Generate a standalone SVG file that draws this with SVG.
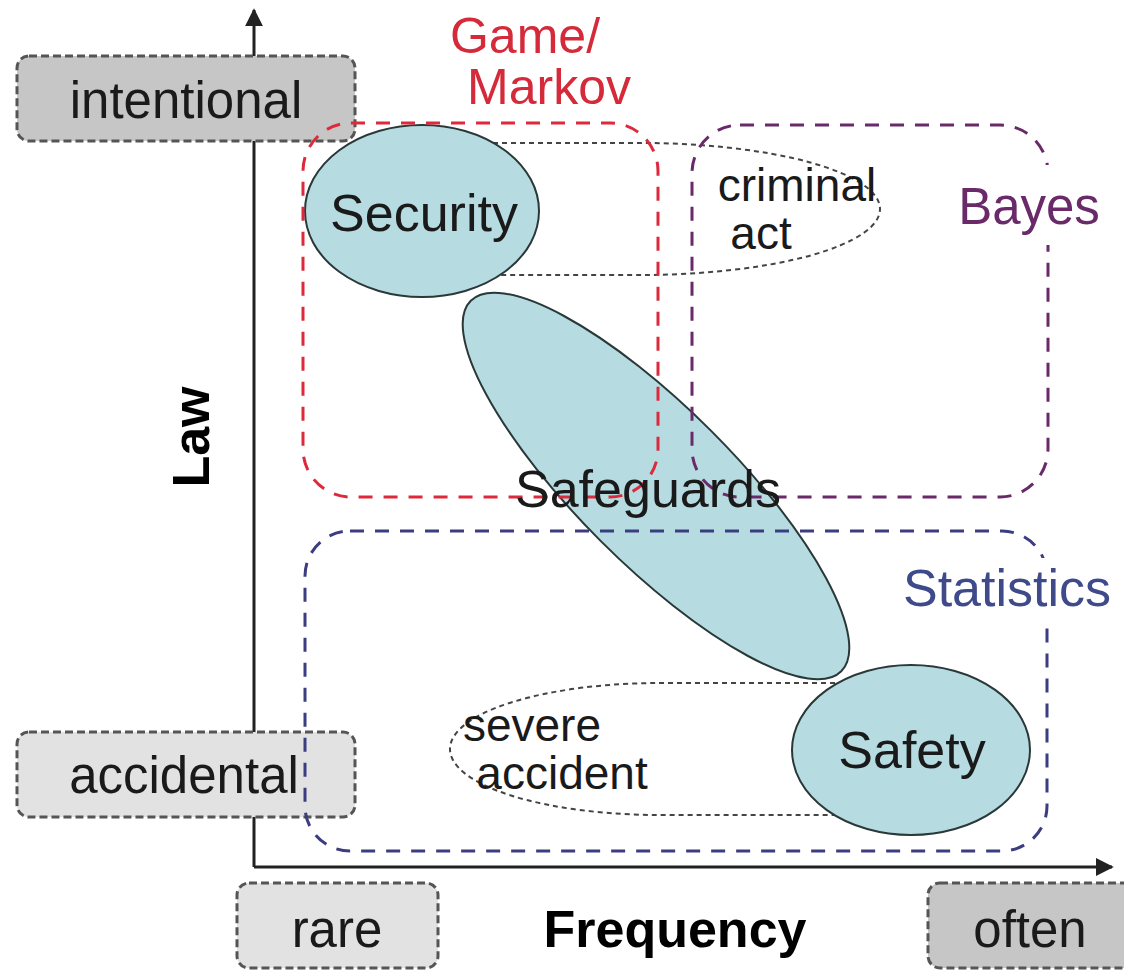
<svg xmlns="http://www.w3.org/2000/svg" width="1124" height="971" viewBox="0 0 1124 971">
<style>
text{font-family:"Liberation Sans",Arial,sans-serif;fill:#1a1a1a}
.lbl{font-size:51px;text-anchor:middle}
.bold{font-weight:bold;font-size:52px;text-anchor:middle;fill:#000}
.small{font-size:46px;text-anchor:middle}
.box{stroke:#555;stroke-width:3;stroke-dasharray:8 4}
.dark{fill:#c6c6c6}
.light{fill:#e2e2e2}
.blob{fill:#b6dce2;stroke:#2a3838;stroke-width:2}
.dot{fill:none;stroke:#444;stroke-width:2;stroke-dasharray:5 4}
.grp{fill:none;stroke-width:3;stroke-dasharray:14 11}
</style>
<defs>
<marker id="arr" viewBox="0 0 10 10" refX="9" refY="5" markerWidth="6" markerHeight="6" markerUnits="strokeWidth" orient="auto">
<path d="M0,0 L10,5 L0,10 z" fill="#222"/>
</marker>
</defs>
<rect width="1124" height="971" fill="#fff"/>
<g id="connectors">
<line x1="254" y1="867" x2="254" y2="10" stroke="#222" stroke-width="3" marker-end="url(#arr)"/>
<line x1="254" y1="867" x2="1112" y2="867" stroke="#222" stroke-width="3" marker-end="url(#arr)"/>
</g>
<g id="criminal-act">
<path class="dot" d="M430 143 H640 A240 66 0 0 1 640 275 H430"/>
</g>
<g id="severe-accident">
<path class="dot" d="M880 683 H660 A210 66 0 0 0 660 815 H880"/>
</g>
<g id="security"><ellipse class="blob" cx="422" cy="211" rx="117" ry="86"/></g>
<g id="safeguards-shape"><ellipse class="blob" cx="656" cy="486" rx="262" ry="78" transform="rotate(45 656 486)"/></g>
<g id="safety"><ellipse class="blob" cx="911" cy="750" rx="119" ry="85"/></g>
<g id="intentional"><rect class="box dark" x="17" y="56" width="338" height="85" rx="12"/><text class="lbl" x="186" y="118">intentional</text></g>
<g id="accidental"><rect class="box light" x="17" y="732" width="338" height="85" rx="12"/><text class="lbl" x="184" y="793">accidental</text></g>
<g id="rare"><rect class="box light" x="237" y="883" width="201" height="85" rx="12"/><text class="lbl" x="337" y="947">rare</text></g>
<g id="often"><rect class="box dark" x="928" y="883" width="210" height="85" rx="12"/><text class="lbl" x="1030" y="947">often</text></g>
<g id="game-markov">
<rect class="grp" x="303" y="123" width="355" height="374" rx="48" stroke="#dc2a3c"/>
<text x="525" y="53" class="lbl" style="fill:#d42a3a;font-size:50px">Game/</text>
<text x="549" y="104" class="lbl" style="fill:#d42a3a;font-size:50px">Markov</text>
</g>
<g id="bayes">
<rect class="grp" x="692" y="125" width="356" height="372" rx="48" stroke="#6a2a6a"/>
<rect x="950" y="165" width="160" height="80" fill="#fff"/>
<text x="1029" y="224" class="lbl" style="fill:#6a2a6a">Bayes</text>
</g>
<g id="statistics">
<rect class="grp" x="305" y="531" width="742" height="320" rx="45" stroke="#3c3c80"/>
<rect x="895" y="558" width="225" height="68" fill="#fff"/>
<text x="1007" y="606" class="lbl" style="fill:#3f4a8a;font-size:52px">Statistics</text>
</g>
<g id="labels">
<text class="lbl" x="424" y="231" style="font-size:52px">Security</text>
<text class="small" x="797" y="201">criminal</text>
<text class="small" x="761" y="249">act</text>
<text class="lbl" x="648" y="507" style="font-size:52px">Safeguards</text>
<text class="small" x="532" y="741">severe</text>
<text class="small" x="562" y="789">accident</text>
<text class="lbl" x="912" y="768" style="font-size:52px">Safety</text>
<text class="bold" x="675" y="947">Frequency</text>
<text class="bold" transform="translate(209 437) rotate(-90)" x="0" y="0">Law</text>
</g>
</svg>
